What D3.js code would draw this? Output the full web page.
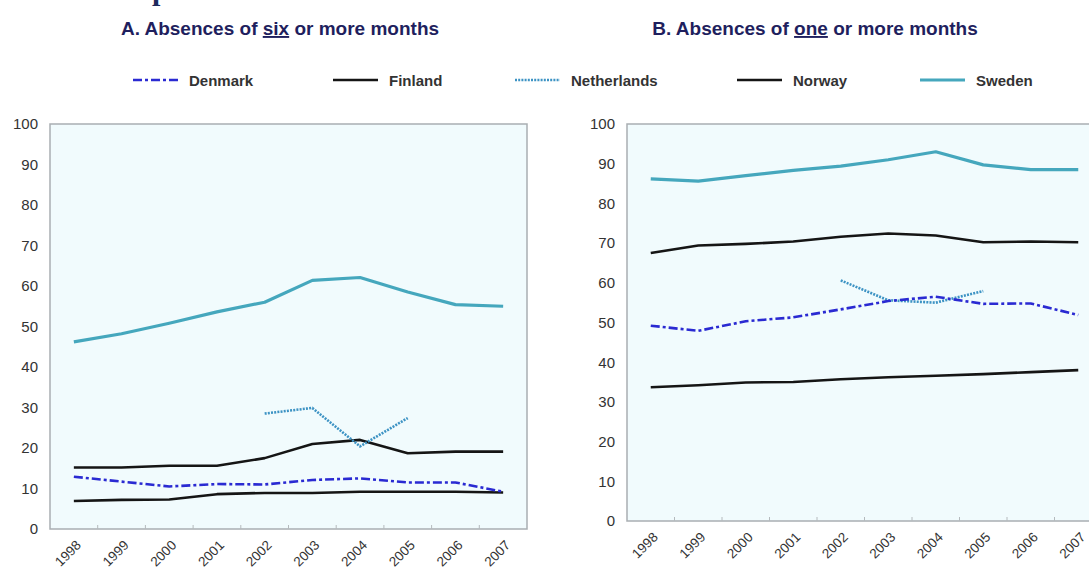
<!DOCTYPE html>
<html>
<head>
<meta charset="utf-8">
<script src="https://cdn.jsdelivr.net/npm/d3@7"></script>
<style>
  html, body { margin: 0; padding: 0; background: #ffffff; }
  svg { display: block; font-family: "Liberation Sans", Arial, sans-serif; }
</style>
</head>
<body>
<svg id="chart" width="1089" height="576"></svg>
<script>
// Years on the horizontal axis
const years = ["1998", "1999", "2000", "2001", "2002", "2003", "2004", "2005", "2006", "2007"];
const yTicks = [0, 10, 20, 30, 40, 50, 60, 70, 80, 90, 100];

// Panel A: share of mothers with absences of six or more months (%)
const sixDenmark     = [12.9, 11.7, 10.5, 11.1, 11.0, 12.1, 12.5, 11.5, 11.5, 9.2];
const sixFinland     = [15.2, 15.2, 15.6, 15.6, 17.5, 21.0, 22.0, 18.7, 19.1, 19.1];
const sixNetherlands = [null, null, null, null, 28.5, 29.9, 20.4, 27.4, null, null];
const sixNorway      = [6.9, 7.2, 7.3, 8.6, 8.9, 8.9, 9.2, 9.2, 9.2, 9.0];
const sixSweden      = [46.2, 48.2, 50.8, 53.6, 56.0, 61.4, 62.1, 58.5, 55.4, 55.0];

// Panel B: share of mothers with absences of one or more months (%)
const oneDenmark     = [49.2, 47.9, 50.3, 51.3, 53.3, 55.4, 56.5, 54.7, 54.8, 51.9];
const oneFinland     = [67.5, 69.4, 69.8, 70.4, 71.6, 72.4, 71.9, 70.2, 70.4, 70.2];
const oneNetherlands = [null, null, null, null, 60.6, 55.6, 55.0, 57.9, null, null];
const oneNorway      = [33.7, 34.2, 34.9, 35.0, 35.7, 36.2, 36.6, 37.0, 37.5, 38.0];
const oneSweden      = [86.2, 85.6, 87.0, 88.3, 89.4, 91.0, 93.0, 89.7, 88.5, 88.5];

// Series styling
const styles = {
  Denmark:     { color: "#2a2ad2", width: 2.6, dash: "9,3,3,3" },
  Finland:     { color: "#151515", width: 2.6, dash: null },
  Netherlands: { color: "#3d93c4", width: 2.6, dash: "2,1.2" },
  Norway:      { color: "#151515", width: 2.6, dash: null },
  Sweden:      { color: "#45a7bd", width: 3.2, dash: null }
};

const panels = [
  {
    title: ["A.  Absences of ", "six", " or more months"], titleX: 280,
    left: 50, top: 124, width: 477, bottom: 529,
    series: { Denmark: sixDenmark, Finland: sixFinland, Netherlands: sixNetherlands, Norway: sixNorway, Sweden: sixSweden }
  },
  {
    title: ["B. Absences of ", "one", " or more months"], titleX: 815,
    left: 627, top: 124, width: 475, bottom: 521,
    series: { Denmark: oneDenmark, Finland: oneFinland, Netherlands: oneNetherlands, Norway: oneNorway, Sweden: oneSweden }
  }
];

const svg = d3.select("#chart");

// Clipped descender of the section heading above the panels
svg.append("text")
  .attr("x", 152).attr("y", 0)
  .attr("font-family", "'Liberation Serif', 'DejaVu Serif', serif")
  .attr("font-weight", "bold")
  .attr("font-size", 30)
  .attr("fill", "#1d2a5c")
  .text("p");

// Panel titles with the key word underlined
panels.forEach(p => {
  const t = svg.append("text")
    .attr("x", p.titleX).attr("y", 35)
    .attr("text-anchor", "middle")
    .attr("font-weight", "bold")
    .attr("font-size", 19)
    .attr("fill", "#1f1f5e");
  t.append("tspan").text(p.title[0]);
  t.append("tspan").attr("text-decoration", "underline").text(p.title[1]);
  t.append("tspan").text(p.title[2]);
});

// Legend row
const legendItems = [
  { name: "Denmark", x: 133 },
  { name: "Finland", x: 333 },
  { name: "Netherlands", x: 515 },
  { name: "Norway", x: 737 },
  { name: "Sweden", x: 920 }
];
const legend = svg.append("g");
legendItems.forEach(item => {
  const s = styles[item.name];
  legend.append("line")
    .attr("x1", item.x).attr("x2", item.x + 45)
    .attr("y1", 80).attr("y2", 80)
    .attr("stroke", s.color)
    .attr("stroke-width", s.width)
    .attr("stroke-dasharray", s.dash);
  legend.append("text")
    .attr("x", item.x + 56).attr("y", 86)
    .attr("font-size", 15)
    .attr("font-weight", "bold")
    .attr("fill", "#333")
    .text(item.name);
});

panels.forEach(p => {
  const x = d3.scaleBand().domain(years).range([p.left, p.left + p.width]).padding(0);
  const y = d3.scaleLinear().domain([0, 100]).range([p.bottom, p.top]);
  const g = svg.append("g");

  // Plot area
  g.append("rect")
    .attr("x", p.left).attr("y", p.top)
    .attr("width", p.width).attr("height", p.bottom - p.top)
    .attr("fill", "#f1fbfd")
    .attr("stroke", "#a9aeb2")
    .attr("stroke-width", 1.5);

  // Vertical axis labels
  const yAxis = d3.axisLeft(y).tickValues(yTicks).tickSize(0).tickPadding(12);
  const yg = g.append("g").attr("transform", `translate(${p.left},0)`).call(yAxis);
  yg.select(".domain").remove();
  yg.selectAll("text")
    .attr("font-family", "'Liberation Sans', Arial, sans-serif")
    .attr("font-size", 15)
    .attr("fill", "#333");

  // Small tick marks on the category boundaries
  const boundaries = years.slice(1).map(yr => x(yr));
  g.selectAll(".bnd").data(boundaries).enter().append("line")
    .attr("x1", d => d).attr("x2", d => d)
    .attr("y1", p.bottom).attr("y2", p.bottom - 4)
    .attr("stroke", "#b5babd").attr("stroke-width", 1);

  // Rotated year labels
  const xAxis = d3.axisBottom(x).tickSize(0).tickPadding(0);
  const xg = g.append("g").attr("transform", `translate(0,${p.bottom})`).call(xAxis);
  xg.select(".domain").remove();
  xg.selectAll("text")
    .attr("font-family", "'Liberation Sans', Arial, sans-serif")
    .attr("font-size", 13.5)
    .attr("fill", "#333")
    .attr("text-anchor", "end")
    .attr("dy", 0)
    .attr("transform", "translate(8,17) rotate(-45)");

  // Series lines
  const line = d3.line()
    .defined(d => d.v != null)
    .x(d => x(d.year) + x.bandwidth() / 2)
    .y(d => y(d.v));
  const drawOrder = ["Sweden", "Finland", "Norway", "Netherlands", "Denmark"];
  drawOrder.forEach(name => {
    const s = styles[name];
    const pts = years.map((yr, i) => ({ year: yr, v: p.series[name][i] }));
    g.append("path")
      .datum(pts)
      .attr("d", line)
      .attr("fill", "none")
      .attr("stroke", s.color)
      .attr("stroke-width", s.width)
      .attr("stroke-linejoin", "round")
      .attr("stroke-dasharray", s.dash);
  });
});
</script>
</body>
</html>
